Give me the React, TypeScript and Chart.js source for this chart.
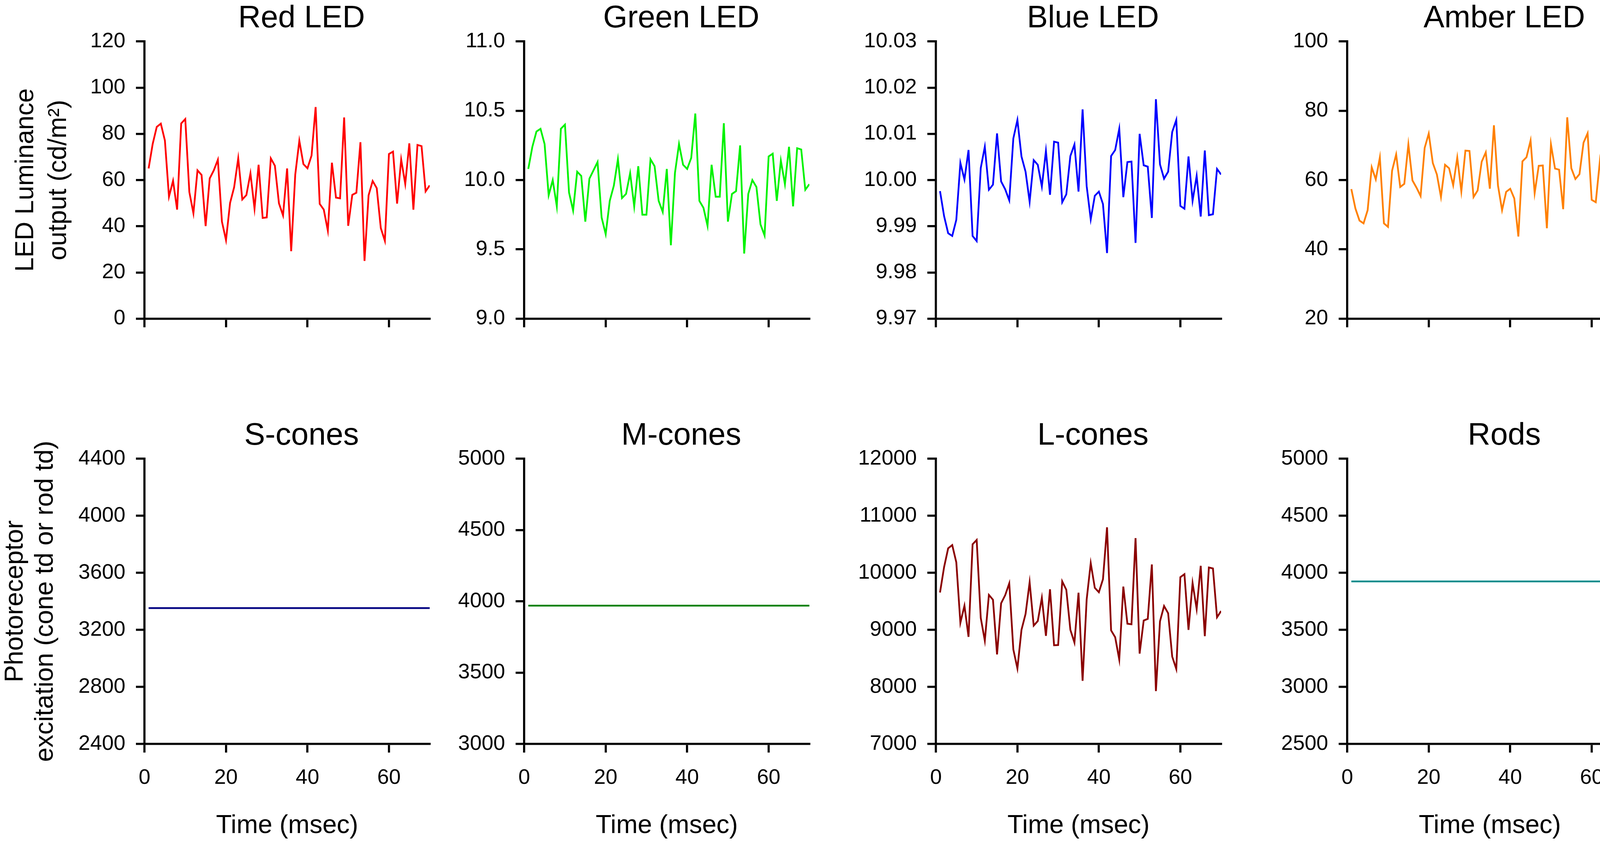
import { useEffect, useRef } from 'react'
import Chart from 'chart.js/auto'
import type { ChartConfiguration } from 'chart.js'

Chart.defaults.font.family = "'Liberation Sans', Arial, sans-serif"
Chart.defaults.color = '#000'

// time axis, msec
const TIME_MS = [
  1, 2, 3, 4, 5, 6, 7, 8, 9, 10, 11, 12, 13, 14, 15, 16, 17, 18, 19, 20,
  21, 22, 23, 24, 25, 26, 27, 28, 29, 30, 31, 32, 33, 34, 35, 36, 37, 38, 39, 40,
  41, 42, 43, 44, 45, 46, 47, 48, 49, 50, 51, 52, 53, 54, 55, 56, 57, 58, 59, 60,
  61, 62, 63, 64, 65, 66, 67, 68, 69, 70,
]

// LED luminance output (cd/m²)
const RED_LED = [
  65.0, 75.6, 83.0, 84.4, 77.1, 52.8, 59.7, 47.2, 84.5, 86.4,
  54.8, 45.6, 64.2, 62.2, 40.1, 60.7, 64.2, 68.8, 42.0, 34.0,
  50.1, 56.9, 69.4, 51.6, 53.5, 62.9, 47.6, 66.6, 43.6, 43.8,
  69.4, 66.2, 49.9, 44.7, 65.0, 29.2, 62.4, 77.0, 66.9, 65.1,
  70.6, 91.6, 49.7, 47.2, 38.1, 67.5, 52.4, 52.1, 87.1, 40.2,
  53.6, 54.5, 76.4, 25.0, 53.4, 59.6, 56.5, 39.2, 33.7, 71.3,
  72.3, 49.8, 68.9, 58.3, 75.9, 47.2, 75.2, 74.7, 55.1, 57.7,
]
const GREEN_LED = [
  10.08, 10.24, 10.35, 10.37, 10.26, 9.89, 10.0, 9.81, 10.37, 10.4,
  9.91, 9.78, 10.06, 10.03, 9.7, 10.01, 10.07, 10.13, 9.73, 9.61,
  9.85, 9.96, 10.15, 9.87, 9.9, 10.05, 9.81, 10.1, 9.75, 9.75,
  10.15, 10.1, 9.85, 9.77, 10.08, 9.53, 10.05, 10.26, 10.11, 10.08,
  10.16, 10.48, 9.85, 9.8, 9.67, 10.11, 9.88, 9.88, 10.41, 9.7,
  9.9, 9.92, 10.25, 9.47, 9.9, 10.0, 9.95, 9.68, 9.6, 10.17,
  10.19, 9.85, 10.14, 9.97, 10.24, 9.81, 10.23, 10.22, 9.93, 9.97,
]
const BLUE_LED = [
  9.9976, 9.9922, 9.9885, 9.9879, 9.9914, 10.0037, 10.0001, 10.0065, 9.9879, 9.9868,
  10.0026, 10.0072, 9.9979, 9.999, 10.0101, 9.9997, 9.998, 9.9956, 10.009, 10.013,
  10.0051, 10.0018, 9.9953, 10.0043, 10.0033, 9.9986, 10.0063, 9.9968, 10.0083, 10.0081,
  9.9952, 9.9969, 10.0052, 10.0077, 9.9975, 10.0153, 9.9987, 9.9915, 9.9966, 9.9975,
  9.9948, 9.9842, 10.0052, 10.0065, 10.0111, 9.9963, 10.0039, 10.004, 9.9864, 10.01,
  10.0032, 10.0029, 9.9918, 10.0175, 10.0034, 10.0003, 10.0018, 10.0104, 10.013, 9.9944,
  9.9938, 10.0051, 9.9955, 10.0009, 9.9921, 10.0064, 9.9924, 9.9926, 10.0024, 10.0012,
]
const AMBER_LED = [
  57.4, 51.8, 48.3, 47.5, 51.3, 63.7, 60.2, 66.5, 47.5, 46.5,
  62.7, 67.4, 58.0, 58.9, 70.3, 59.9, 57.8, 55.4, 69.3, 73.4,
  64.9, 61.6, 55.1, 64.4, 63.4, 58.5, 66.5, 56.7, 68.5, 68.4,
  55.1, 57.0, 65.3, 68.0, 57.5, 75.8, 58.4, 51.3, 56.6, 57.5,
  54.7, 43.7, 65.4, 66.6, 71.4, 56.2, 64.1, 64.2, 46.1, 70.3,
  63.3, 63.0, 51.6, 78.1, 63.4, 60.3, 61.7, 70.8, 73.5, 54.3,
  53.6, 65.3, 55.3, 60.8, 51.8, 66.6, 52.2, 52.5, 62.6, 61.2,
]

// photoreceptor excitation (cone td or rod td)
const S_CONES = [
  3353, 3353, 3353, 3353, 3353, 3353, 3353, 3353, 3353, 3353,
  3353, 3353, 3353, 3353, 3353, 3353, 3353, 3353, 3353, 3353,
  3353, 3353, 3353, 3353, 3353, 3353, 3353, 3353, 3353, 3353,
  3353, 3353, 3353, 3353, 3353, 3353, 3353, 3353, 3353, 3353,
  3353, 3353, 3353, 3353, 3353, 3353, 3353, 3353, 3353, 3353,
  3353, 3353, 3353, 3353, 3353, 3353, 3353, 3353, 3353, 3353,
  3353, 3353, 3353, 3353, 3353, 3353, 3353, 3353, 3353, 3353,
]
const M_CONES = [
  3970, 3970, 3970, 3970, 3970, 3970, 3970, 3970, 3970, 3970,
  3970, 3970, 3970, 3970, 3970, 3970, 3970, 3970, 3970, 3970,
  3970, 3970, 3970, 3970, 3970, 3970, 3970, 3970, 3970, 3970,
  3970, 3970, 3970, 3970, 3970, 3970, 3970, 3970, 3970, 3970,
  3970, 3970, 3970, 3970, 3970, 3970, 3970, 3970, 3970, 3970,
  3970, 3970, 3970, 3970, 3970, 3970, 3970, 3970, 3970, 3970,
  3970, 3970, 3970, 3970, 3970, 3970, 3970, 3970, 3970, 3970,
]
const L_CONES = [
  9655, 10100, 10430, 10486, 10184, 9123, 9424, 8877, 10500, 10576,
  9211, 8811, 9613, 9528, 8570, 9466, 9608, 9816, 8656, 8324,
  9000, 9278, 9835, 9075, 9155, 9561, 8895, 9712, 8730, 8734,
  9850, 9703, 9000, 8777, 9651, 8107, 9533, 10170, 9736, 9660,
  9887, 10798, 8990, 8871, 8480, 9759, 9108, 9098, 10609, 8584,
  9164, 9193, 10146, 7927, 9150, 9419, 9292, 8532, 8314, 9924,
  9976, 9000, 9821, 9367, 10123, 8890, 10094, 10076, 9221, 9330,
]
const RODS = [
  3925, 3925, 3925, 3925, 3925, 3925, 3925, 3925, 3925, 3925,
  3925, 3925, 3925, 3925, 3925, 3925, 3925, 3925, 3925, 3925,
  3925, 3925, 3925, 3925, 3925, 3925, 3925, 3925, 3925, 3925,
  3925, 3925, 3925, 3925, 3925, 3925, 3925, 3925, 3925, 3925,
  3925, 3925, 3925, 3925, 3925, 3925, 3925, 3925, 3925, 3925,
  3925, 3925, 3925, 3925, 3925, 3925, 3925, 3925, 3925, 3925,
  3925, 3925, 3925, 3925, 3925, 3925, 3925, 3925, 3925, 3925,
]

const TOP_Y_TITLE = ['LED Luminance', 'output (cd/m²)']
const BOTTOM_Y_TITLE = ['Photoreceptor', 'excitation (cone td or rod td)']
const X_TITLE = 'Time (msec)'

interface PanelSpec {
  title: string
  values: number[]
  color: string
  yMin: number
  yMax: number
  yStep: number
  decimals: number
  row: number
  col: number
}

const PANELS: PanelSpec[] = [
  { title: 'Red LED', values: RED_LED, color: '#ff0000', yMin: 0, yMax: 120, yStep: 20, decimals: 0, row: 0, col: 0 },
  { title: 'Green LED', values: GREEN_LED, color: '#00f200', yMin: 9, yMax: 11, yStep: 0.5, decimals: 1, row: 0, col: 1 },
  { title: 'Blue LED', values: BLUE_LED, color: '#0000ff', yMin: 9.97, yMax: 10.03, yStep: 0.01, decimals: 2, row: 0, col: 2 },
  { title: 'Amber LED', values: AMBER_LED, color: '#ff8000', yMin: 20, yMax: 100, yStep: 20, decimals: 0, row: 0, col: 3 },
  { title: 'S-cones', values: S_CONES, color: '#000080', yMin: 2400, yMax: 4400, yStep: 400, decimals: 0, row: 1, col: 0 },
  { title: 'M-cones', values: M_CONES, color: '#008000', yMin: 3000, yMax: 5000, yStep: 500, decimals: 0, row: 1, col: 1 },
  { title: 'L-cones', values: L_CONES, color: '#8b0000', yMin: 7000, yMax: 12000, yStep: 1000, decimals: 0, row: 1, col: 2 },
  { title: 'Rods', values: RODS, color: '#008b8b', yMin: 2500, yMax: 5000, yStep: 500, decimals: 0, row: 1, col: 3 },
]

// plot area is 730px wide; titles sit a little right of the plot centre,
// so an empty right-hand axis pads each canvas out
const PLOT_W = 730
const COLS = [
  { left: 0, yAxisW: 370, padR: 444 },
  { left: 1142, yAxisW: 200, padR: 274 },
  { left: 2196, yAxisW: 200, padR: 274 },
  { left: 3249, yAxisW: 200, padR: 274 },
]
const ROWS = [
  { top: 0, height: 875, xAxisH: 40 },
  { top: 1068, height: 1092, xAxisH: 256 },
]

const AXIS = { display: true, color: '#000', width: 5.5 }
const GRID = { display: true, drawOnChartArea: false, drawTicks: true, tickLength: 22, lineWidth: 5.5, color: '#000' }

function buildConfig(p: PanelSpec): ChartConfiguration<'line'> {
  const col = COLS[p.col]
  const row = ROWS[p.row]
  const yTitle = p.row === 0 ? TOP_Y_TITLE : BOTTOM_Y_TITLE
  return {
    type: 'line',
    data: {
      datasets: [
        {
          data: TIME_MS.map((t, i) => ({ x: t, y: p.values[i] })),
          borderColor: p.color,
          borderWidth: 4.5,
          pointRadius: 0,
          fill: false,
          tension: 0,
        },
      ],
    },
    options: {
      animation: false,
      responsive: false,
      devicePixelRatio: 1,
      layout: { padding: 0 },
      plugins: {
        legend: { display: false },
        tooltip: { enabled: false },
        title: {
          display: true,
          text: p.title,
          color: '#000',
          font: { size: 80, weight: 'normal', lineHeight: 1.2 },
          padding: { top: 0, bottom: 10 },
        },
      },
      scales: {
        x: {
          type: 'linear',
          min: 0,
          max: 70,
          border: AXIS,
          grid: GRID,
          ticks: {
            display: p.row === 1,
            stepSize: 20,
            includeBounds: false,
            autoSkip: false,
            maxRotation: 0,
            padding: 33,
            color: '#000',
            font: { size: 54 },
          },
          title: {
            display: p.row === 1,
            text: X_TITLE,
            color: '#000',
            font: { size: 66, lineHeight: 1.2 },
            padding: { top: 0, bottom: 7 },
          },
          afterFit: (s) => {
            s.height = row.xAxisH
          },
        },
        y: {
          type: 'linear',
          position: 'left',
          min: p.yMin,
          max: p.yMax,
          border: AXIS,
          grid: GRID,
          ticks: {
            stepSize: p.yStep,
            autoSkip: false,
            padding: 27,
            color: '#000',
            font: { size: 54 },
            callback: (v) => Number(v).toFixed(p.decimals),
          },
          title: {
            display: p.col === 0,
            text: yTitle,
            color: '#000',
            font: { size: 66, lineHeight: p.row === 0 ? 84 / 66 : 77 / 66 },
            padding: { top: p.row === 0 ? 25 : 1, bottom: 0 },
          },
          afterFit: (s) => {
            s.width = col.yAxisW
          },
        },
        pad: {
          type: 'linear',
          position: 'right',
          display: true,
          border: { display: false },
          grid: { display: false },
          ticks: { display: false },
          afterFit: (s) => {
            s.width = col.padR
          },
        },
      },
    },
  }
}

function Panel({ spec }: { spec: PanelSpec }) {
  const ref = useRef<HTMLCanvasElement>(null)
  const col = COLS[spec.col]
  const row = ROWS[spec.row]
  const width = col.yAxisW + PLOT_W + col.padR

  useEffect(() => {
    if (!ref.current) return
    const chart = new Chart(ref.current, buildConfig(spec))
    return () => chart.destroy()
  }, [spec])

  return (
    <canvas
      ref={ref}
      width={width}
      height={row.height}
      style={{ position: 'absolute', left: col.left, top: row.top, width, height: row.height }}
    />
  )
}

export default function App() {
  return (
    <div
      style={{
        position: 'absolute',
        left: 0,
        top: 0,
        width: 4181,
        height: 2160,
        overflow: 'hidden',
        background: '#fff',
      }}
    >
      {PANELS.map((p) => (
        <Panel key={p.title} spec={p} />
      ))}
    </div>
  )
}
